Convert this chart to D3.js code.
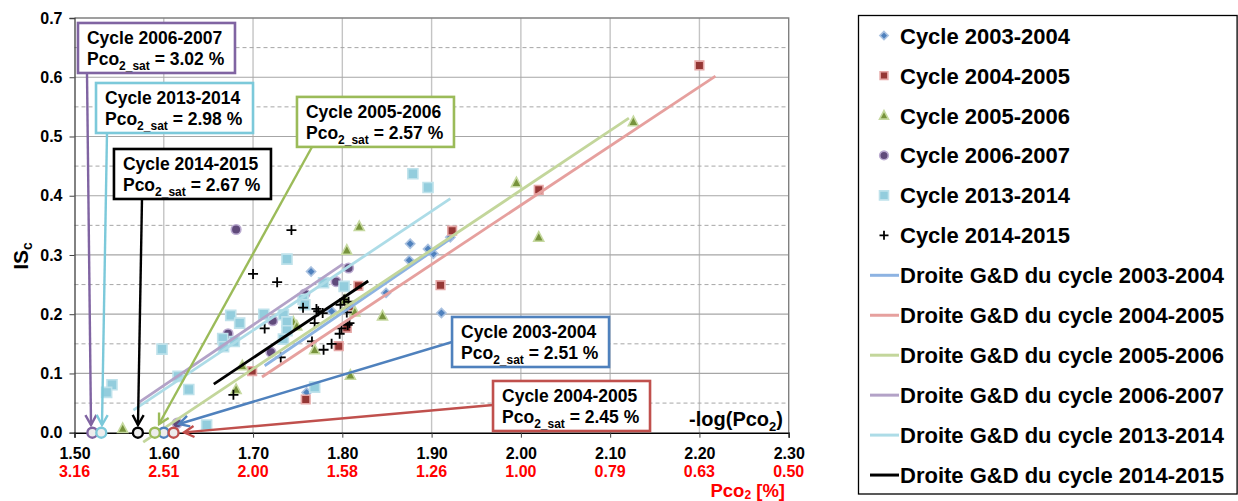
<!DOCTYPE html>
<html>
<head>
<meta charset="utf-8">
<script src="https://cdn.jsdelivr.net/npm/d3@7"></script>
<style>
  body { margin: 0; background: #fff; }
  svg { display: block; font-family: 'Liberation Sans', Arial, sans-serif; font-weight: bold; }
</style>
</head>
<body>
<svg id="chart" width="1238" height="501"></svg>
<script>
// values (x = -log(Pco2), y = ISc)
const cycles = ['2003-2004', '2004-2005', '2005-2006', '2006-2007', '2013-2014', '2014-2015'];

const pts0304 = [[1.765,0.272],[1.788,0.205],[1.849,0.236],[1.875,0.291],[1.876,0.319],[1.896,0.310],
  [1.902,0.302],[1.921,0.330],[1.911,0.202],[1.760,0.068]];
const pts0405 = [[2.200,0.620],[2.020,0.410],[1.923,0.341],[1.910,0.249],[1.818,0.248],[1.808,0.213],
  [1.805,0.177],[1.796,0.146],[1.699,0.104],[1.759,0.056]];
const pts0506 = [[2.126,0.525],[1.995,0.422],[2.020,0.330],[1.819,0.348],[1.805,0.308],[1.814,0.204],
  [1.845,0.197],[1.769,0.140],[1.809,0.097],[1.745,0.187],[1.749,0.180],[1.688,0.113],[1.681,0.073],
  [1.554,0.007],[1.803,0.224]];
const pts0607 = [[1.681,0.343],[1.807,0.278],[1.793,0.255],[1.758,0.234],[1.722,0.189],[1.720,0.136],
  [1.672,0.167],[1.615,0.016]];
const pts1314 = [[1.879,0.437],[1.896,0.414],[1.738,0.293],[1.779,0.253],[1.802,0.247],[1.756,0.225],
  [1.758,0.216],[1.712,0.200],[1.675,0.198],[1.685,0.185],[1.666,0.159],[1.667,0.145],[1.679,0.154],
  [1.734,0.199],[1.738,0.187],[1.738,0.172],[1.734,0.158],[1.598,0.141],[1.616,0.095],[1.628,0.073],
  [1.648,0.013],[1.542,0.081],[1.536,0.068],[1.769,0.077]];
const pts1415 = [[1.743,0.342],[1.700,0.268],[1.727,0.254],[1.756,0.211],[1.771,0.209],[1.773,0.205],
  [1.778,0.202],[1.769,0.185],[1.713,0.176],[1.766,0.154],[1.779,0.140],[1.788,0.150],[1.731,0.127],
  [1.678,0.064],[1.798,0.216],[1.805,0.203],[1.807,0.221],[1.802,0.225],[1.799,0.176],[1.797,0.167],
  [1.806,0.182],[1.808,0.185]];

// G&D straight lines, [x1, y1, x2, y2]
const fits = [[1.713,0.113,1.924,0.330],[1.710,0.094,2.218,0.602],[1.577,-0.016,2.121,0.531],
  [1.573,0.052,1.801,0.285],[1.566,0.038,1.921,0.395],[1.656,0.082,1.829,0.256]];

// saturation points on the x axis
const satX = [1.600, 1.611, 1.590, 1.520, 1.530, 1.571];
const satPct = ['2.51', '2.45', '2.57', '3.02', '2.98', '2.67'];

const xTicks = [1.5, 1.6, 1.7, 1.8, 1.9, 2.0, 2.1, 2.2, 2.3];
const pctLabels = ['3.16', '2.51', '2.00', '1.58', '1.26', '1.00', '0.79', '0.63', '0.50'];
const yTicks = [0, 0.1, 0.2, 0.3, 0.4, 0.5, 0.6, 0.7];

class GDChart {

  constructor(_config) {
    this.config = {
      parentElement: _config.parentElement,
      left: 74.5, right: 788.7, top: 18, bottom: 432.7
    };
    this.series = [pts0304, pts0405, pts0506, pts0607, pts1314, pts1415];
    this.initVis();
  }

  initVis() {
    let vis = this;
    let c = vis.config;
    vis.svg = d3.select(c.parentElement);

    vis.x = d3.scaleLinear().domain([1.5, 2.3]).range([c.left, c.right]);
    vis.y = d3.scaleLinear().domain([0, 0.7]).range([c.bottom, c.top]);

    // marker look, same order as cycles
    vis.markStyle = [
      {shape: 'diamond', r: 4.6, fill: '#4F81BD', stroke: '#A9C1E0'},
      {shape: 'square', r: 4.3, fill: '#953735', stroke: '#E6A8A7'},
      {shape: 'triangle', r: 5, fill: '#77933C', stroke: '#C6D9A0'},
      {shape: 'circle', r: 4.8, fill: '#604A7B', stroke: '#B9A9CF'},
      {shape: 'square', r: 5, fill: '#93CDDD', stroke: '#BFE2EB'},
      {shape: 'plus', r: 5, fill: 'none', stroke: '#000'}
    ];
    vis.fitColors = ['#8DB3E2', '#E6A09E', '#C3D69B', '#B3A2C7', '#ADDCE7', '#000'];
    vis.noteColors = ['#4F81BD', '#C0504D', '#9BBB59', '#8064A2', '#7CC9DA', '#000'];

    // annotation boxes: top-left of box, arrow start, arrow tip (in data units)
    vis.notes = [
      {box: [1.9229, 0.1953], from: [1.9229, 0.1531], to: [1.6171, 0.0147]},
      {box: [1.9688, 0.0873], from: [1.9688, 0.0468], to: [1.6227, 0.0005]},
      {box: [1.7492, 0.5668], from: [1.7660, 0.4823], to: [1.5947, 0.0147]},
      {box: [1.5039, 0.6916], from: [1.5140, 0.6071], to: [1.5185, 0.0130]},
      {box: [1.5241, 0.5903], from: [1.5364, 0.5059], to: [1.5308, 0.0130]},
      {box: [1.5442, 0.4789], from: [1.5756, 0.3946], to: [1.5711, 0.0130]}
    ];

    vis.renderVis();
  }

  shapePath(shape, r) {
    switch (shape) {
      case 'diamond': return `M0,${-r}L${r},0L0,${r}L${-r},0Z`;
      case 'square': return `M${-r},${-r}H${r}V${r}H${-r}Z`;
      case 'triangle': return `M0,${-r * 1.1}L${r},${r * 0.8}L${-r},${r * 0.8}Z`;
      case 'circle': return d3.symbol(d3.symbolCircle, Math.PI * r * r)();
      case 'plus': return `M${-r},0H${r}M0,${-r}V${r}`;
    }
  }

  renderVis() {
    let vis = this;
    let c = vis.config;
    let svg = vis.svg;

    //gridlines
    let grid = svg.append('g');
    grid.selectAll('.vgrid')
      .data(xTicks.slice(1, -1))
      .join('line')
        .attr('x1', d => vis.x(d)).attr('x2', d => vis.x(d))
        .attr('y1', c.top).attr('y2', c.bottom)
        .attr('stroke', '#C4C4C4').attr('stroke-width', 1.4);
    grid.selectAll('.hminor')
      .data(d3.range(7).map(i => 0.05 + i * 0.1))
      .join('line')
        .attr('x1', c.left).attr('x2', c.right)
        .attr('y1', d => vis.y(d)).attr('y2', d => vis.y(d))
        .attr('stroke', '#A6A6A6').attr('stroke-width', 1)
        .attr('stroke-dasharray', '4,3');
    grid.selectAll('.hmajor')
      .data(yTicks.slice(1, -1))
      .join('line')
        .attr('x1', c.left).attr('x2', c.right)
        .attr('y1', d => vis.y(d)).attr('y2', d => vis.y(d))
        .attr('stroke', '#A6A6A6').attr('stroke-width', 1.2);
    // top and right border of the plot
    grid.append('path')
      .attr('d', `M${c.left},${vis.y(0.7)}H${vis.x(2.3)}V${c.bottom}`)
      .attr('fill', 'none').attr('stroke', '#808080').attr('stroke-width', 1.4);

    //axes
    let yAxis = d3.axisLeft(vis.y).tickValues(yTicks).tickFormat(d3.format('.1f'))
      .tickSize(5).tickPadding(7);
    let gy = svg.append('g').attr('transform', `translate(${c.left},0)`).call(yAxis);
    gy.select('.domain').attr('stroke', '#404040').attr('stroke-width', 1.3);
    gy.selectAll('.tick line').attr('stroke', '#404040');
    gy.selectAll('text').attr('font-size', 16).attr('font-weight', 'bold')
      .attr('font-family', 'Liberation Sans, Arial, sans-serif').attr('fill', '#000');

    let xAxis = d3.axisBottom(vis.x).tickValues(xTicks).tickFormat(d3.format('.2f'))
      .tickSize(5).tickPadding(10);
    let gx = svg.append('g').attr('transform', `translate(0,${vis.y(0)})`).call(xAxis);
    gx.select('.domain').attr('stroke', '#000').attr('stroke-width', 1.5);
    gx.selectAll('.tick line').attr('stroke', '#404040');
    gx.selectAll('text').attr('font-size', 16).attr('font-weight', 'bold')
      .attr('font-family', 'Liberation Sans, Arial, sans-serif').attr('fill', '#000');

    // second row of labels: Pco2 in %
    svg.append('g').selectAll('text')
      .data(xTicks)
      .join('text')
        .attr('x', d => vis.x(d))
        .attr('y', 476.5)
        .attr('text-anchor', 'middle')
        .attr('font-size', 16)
        .attr('fill', '#FF0000')
        .text((d, i) => pctLabels[i]);

    //axis titles
    let yl = svg.append('text')
      .attr('transform', 'translate(28,256) rotate(-90)')
      .attr('text-anchor', 'middle')
      .attr('font-size', 21);
    yl.append('tspan').text('IS');
    yl.append('tspan').attr('font-size', 14).attr('dy', 4).text('c');

    let xl = svg.append('text')
      .attr('x', 783).attr('y', 426)
      .attr('text-anchor', 'end')
      .attr('font-size', 20);
    xl.append('tspan').text('-log(Pco');
    xl.append('tspan').attr('font-size', 13).attr('dy', 5).text('2');
    xl.append('tspan').attr('dy', -5).text(')');

    let pl = svg.append('text')
      .attr('x', 785).attr('y', 497)
      .attr('text-anchor', 'end')
      .attr('font-size', 18.5)
      .attr('fill', '#FF0000');
    pl.append('tspan').text('Pco');
    pl.append('tspan').attr('font-size', 12).attr('dy', 2).text('2');
    pl.append('tspan').attr('dy', -2).text(' [%]');

    //scatter points
    vis.series.forEach((pts, i) => {
      let s = vis.markStyle[i];
      svg.append('g').selectAll('path')
        .data(pts)
        .join('path')
          .attr('transform', d => `translate(${vis.x(d[0])},${vis.y(d[1])})`)
          .attr('d', vis.shapePath(s.shape, s.r))
          .attr('fill', s.fill)
          .attr('stroke', s.stroke)
          .attr('stroke-width', s.shape === 'plus' ? 1.8 : 1.6);
    });

    //G&D lines
    svg.append('g').selectAll('line')
      .data(fits)
      .join('line')
        .attr('x1', d => vis.x(d[0])).attr('y1', d => vis.y(d[1]))
        .attr('x2', d => vis.x(d[2])).attr('y2', d => vis.y(d[3]))
        .attr('stroke', (d, i) => vis.fitColors[i])
        .attr('stroke-width', 2.8);

    //arrow heads, one per colour
    let defs = svg.append('defs');
    vis.noteColors.forEach((col, i) => {
      defs.append('marker')
        .attr('id', 'arr' + i)
        .attr('viewBox', '-12 -7 14 14')
        .attr('markerWidth', 14).attr('markerHeight', 14)
        .attr('markerUnits', 'userSpaceOnUse')
        .attr('orient', 'auto')
        .append('path')
          .attr('d', 'M-10,-5.5L0,0L-10,5.5')
          .attr('fill', 'none')
          .attr('stroke', col)
          .attr('stroke-width', 2.4);
    });

    //saturation circles on the axis
    svg.append('g').selectAll('circle')
      .data(satX)
      .join('circle')
        .attr('cx', d => vis.x(d))
        .attr('cy', vis.y(0))
        .attr('r', 5)
        .attr('fill', '#EDEDED')
        .attr('stroke', (d, i) => vis.noteColors[i])
        .attr('stroke-width', 2.4);

    //annotation boxes and arrows
    let notes = svg.append('g');
    vis.notes.forEach((n, i) => {
      let col = vis.noteColors[i];
      notes.append('line')
        .attr('x1', vis.x(n.from[0])).attr('y1', vis.y(n.from[1]))
        .attr('x2', vis.x(n.to[0])).attr('y2', vis.y(n.to[1]))
        .attr('stroke', col).attr('stroke-width', 2.4)
        .attr('marker-end', `url(#arr${i})`);

      let bx = vis.x(n.box[0]), by = vis.y(n.box[1]);
      let g = notes.append('g').attr('transform', `translate(${bx},${by})`);
      g.append('rect')
        .attr('width', 157).attr('height', 50)
        .attr('fill', '#fff')
        .attr('stroke', col).attr('stroke-width', 2.6);
      g.append('text')
        .attr('x', 9).attr('y', 21)
        .attr('font-size', 17.5)
        .text('Cycle ' + cycles[i]);
      let t = g.append('text')
        .attr('x', 9).attr('y', 42)
        .attr('font-size', 17.5);
      t.append('tspan').text('Pco');
      t.append('tspan').attr('font-size', 12).attr('dy', 5).text('2_sat');
      t.append('tspan').attr('dy', -5).text(' = ' + satPct[i] + ' %');
    });

    //legend
    let lg = svg.append('g');
    lg.append('rect')
      .attr('x', 858.5).attr('y', 15.5)
      .attr('width', 378.6).attr('height', 478.5)
      .attr('fill', '#fff').attr('stroke', '#000').attr('stroke-width', 1.3);

    let rowY = i => 35.6 + i * 39.95;
    cycles.forEach((cy, i) => {
      let s = vis.markStyle[i];
      lg.append('path')
        .attr('transform', `translate(884,${rowY(i)})`)
        .attr('d', vis.shapePath(s.shape, s.shape === 'plus' ? 4.5 : s.r * 0.9))
        .attr('fill', s.fill)
        .attr('stroke', s.stroke)
        .attr('stroke-width', s.shape === 'plus' ? 1.8 : 1.6);
      lg.append('text')
        .attr('x', 900).attr('y', rowY(i) + 8)
        .attr('font-size', 22)
        .text('Cycle ' + cy);
    });
    cycles.forEach((cy, i) => {
      let yy = rowY(i + 6);
      lg.append('line')
        .attr('x1', 870).attr('x2', 899)
        .attr('y1', yy).attr('y2', yy)
        .attr('stroke', vis.fitColors[i]).attr('stroke-width', 3);
      lg.append('text')
        .attr('x', 900).attr('y', yy + 8)
        .attr('font-size', 22)
        .text('Droite G&D du cycle ' + cy);
    });
  }
}

let chart = new GDChart({parentElement: '#chart'});
</script>
</body>
</html>
